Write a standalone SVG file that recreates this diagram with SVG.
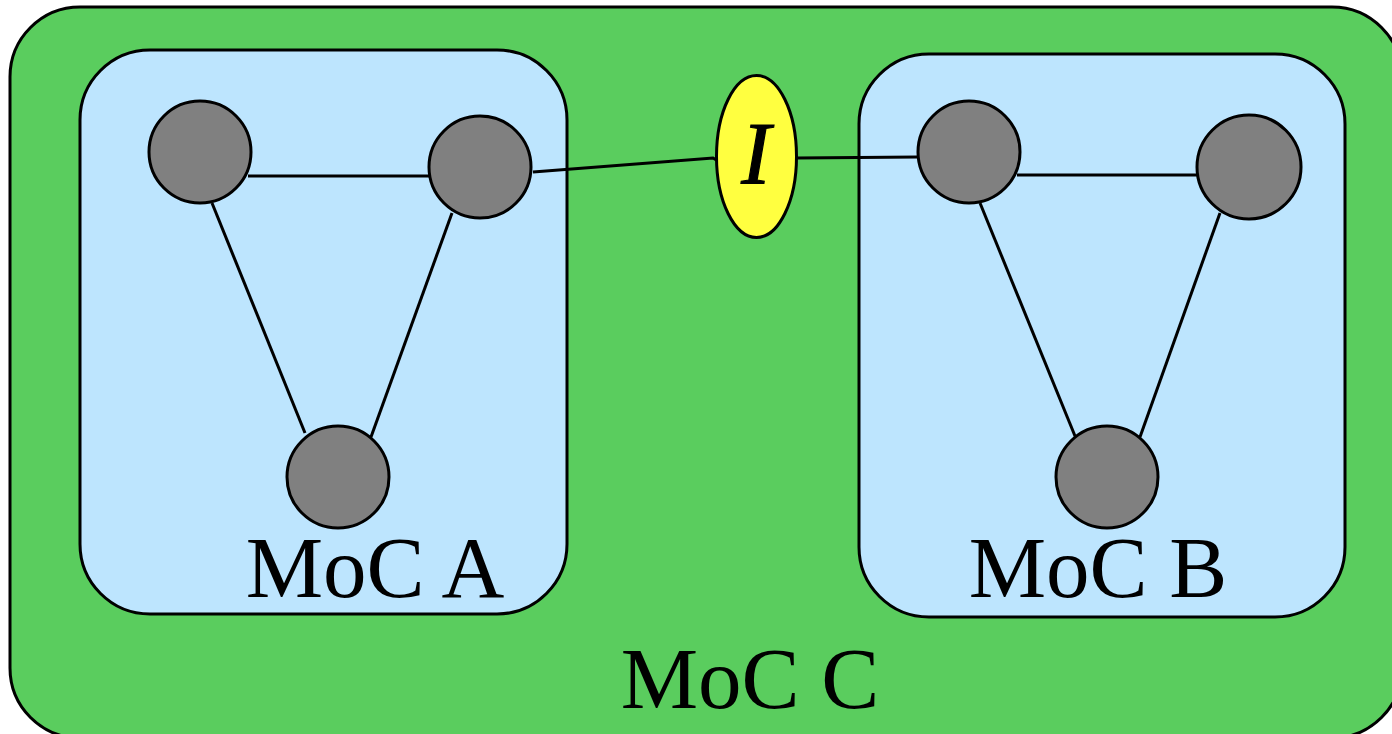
<svg xmlns="http://www.w3.org/2000/svg" width="1392" height="734" viewBox="0 0 1392 734">
<style>
.box{fill:#bde5fe;stroke:#000;stroke-width:3}
.n{fill:#808080;stroke:#000;stroke-width:3}
.e{stroke:#000;stroke-width:3;fill:none}
.t{font-family:"Liberation Serif",serif;font-size:87px;fill:#000}
</style>
<g id="mocC">
<rect x="10" y="7" width="1392" height="731" rx="70" fill="#5acd5e" stroke="#000" stroke-width="3"/>
<text class="t" x="750" y="708" text-anchor="middle">MoC C</text>
</g>
<g id="mocA">
<rect class="box" x="80" y="50" width="487" height="564" rx="70"/>
<text class="t" x="375" y="597" text-anchor="middle">MoC A</text>
</g>
<g id="mocB">
<rect class="box" x="859" y="54" width="486" height="563" rx="70"/>
<text class="t" x="1098" y="597" text-anchor="middle">MoC B</text>
</g>
<g id="connectors">
<line class="e" x1="248" y1="176" x2="430" y2="176"/>
<line class="e" x1="212" y1="203" x2="305" y2="433"/>
<line class="e" x1="452" y1="213" x2="371" y2="437"/>
<polyline class="e" points="533,172 713,158 718,161"/>
<line class="e" x1="797" y1="158" x2="918" y2="157"/>
<line class="e" x1="1017" y1="175" x2="1199" y2="175"/>
<line class="e" x1="980" y1="203" x2="1075" y2="436"/>
<line class="e" x1="1220" y1="213" x2="1140" y2="437"/>
</g>
<g id="a1"><circle class="n" cx="200" cy="152" r="51"/></g>
<g id="a2"><circle class="n" cx="480" cy="167" r="51"/></g>
<g id="a3"><circle class="n" cx="338" cy="477" r="51"/></g>
<g id="b1"><circle class="n" cx="969" cy="152" r="51"/></g>
<g id="b2"><circle class="n" cx="1249" cy="167" r="52"/></g>
<g id="b3"><circle class="n" cx="1107" cy="477" r="51"/></g>
<g id="iface">
<ellipse cx="756.5" cy="156.5" rx="40" ry="81" fill="#ffff40" stroke="#000" stroke-width="3"/>
<text x="756" y="183" text-anchor="middle" font-family="Liberation Serif,serif" font-style="italic" font-size="88" stroke="#000" stroke-width="1.2">I</text>
</g>
</svg>
